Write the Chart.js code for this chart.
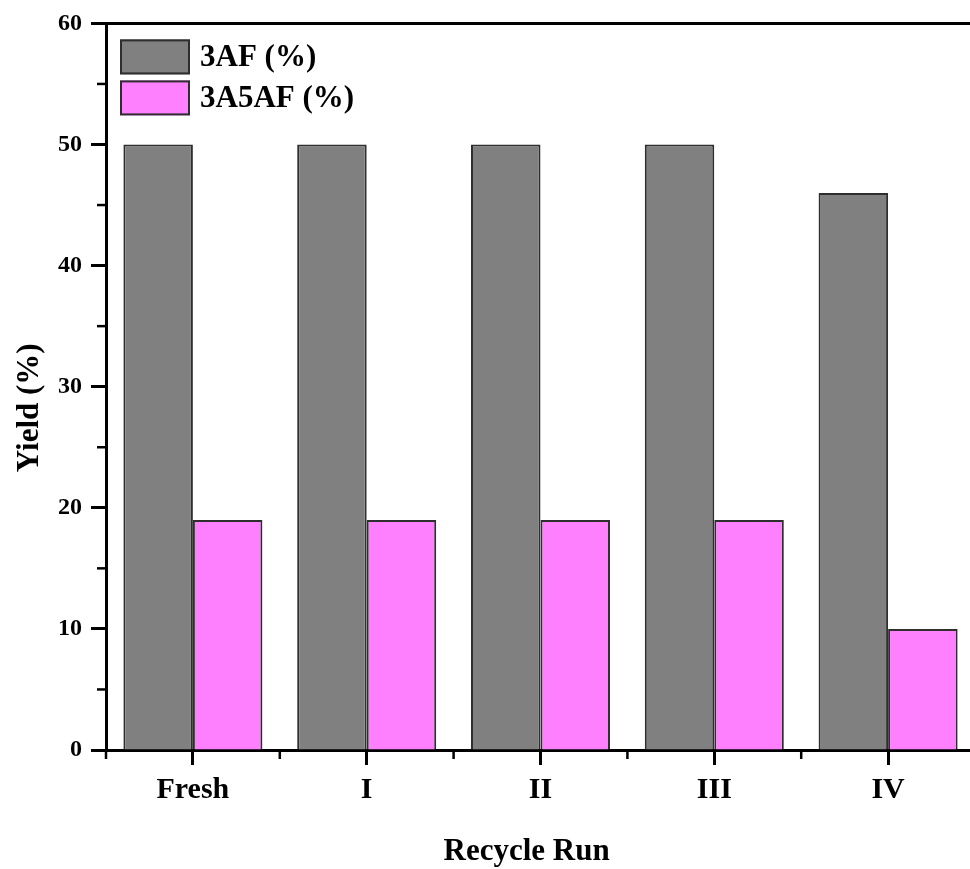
<!DOCTYPE html>
<html>
<head>
<meta charset="utf-8">
<script src="https://cdn.jsdelivr.net/npm/chart.js@4/dist/chart.umd.min.js"></script>
<style>
  html, body { margin: 0; padding: 0; background: #fff; overflow: hidden; width: 970px; height: 869px; }
  #wrap { width: 990px; height: 869px; }
</style>
</head>
<body>
<div id="wrap"><canvas id="c" width="990" height="869"></canvas></div>
<script>
// Catalyst recycling: product yields per run
const runs = ['Fresh', 'I', 'II', 'III', 'IV'];
const yield3AF = [50, 50, 50, 50, 46];
const yield3A5AF = [19, 19, 19, 19, 10];
const seriesNames = ['3AF (%)', '3A5AF (%)'];
const yMin = 0;
const yMax = 60;
const yMajorStep = 10;
const yMinorStep = 5;
const xTitle = 'Recycle Run';
const yTitle = 'Yield (%)';

const SERIF = "'Liberation Serif', 'Times New Roman', serif";
const GRAY = '#808080';
const PINK = '#ff80ff';
const EDGE = '#2e2e2e';

// Frame, minor ticks, legend and axis titles
const decorations = {
  id: 'decorations',
  afterDraw(chart) {
    const { ctx, chartArea: a, scales } = chart;
    ctx.save();
    ctx.strokeStyle = '#000';
    ctx.lineWidth = 3;
    ctx.lineCap = 'butt';
    // top and right edges of the frame
    ctx.beginPath();
    ctx.moveTo(a.left, a.top);
    ctx.lineTo(a.right, a.top);
    ctx.lineTo(a.right, a.bottom);
    ctx.stroke();

    // minor ticks on the value axis
    ctx.lineWidth = 2.5;
    for (let v = yMin + yMinorStep; v < yMax; v += yMajorStep) {
      const y = scales.y.getPixelForValue(v);
      ctx.beginPath();
      ctx.moveTo(a.left - 9, y);
      ctx.lineTo(a.left, y);
      ctx.stroke();
    }
    // minor ticks between categories
    const n = runs.length;
    for (let i = 0; i <= n; i++) {
      const x = scales.x.getPixelForValue(i - 0.5);
      ctx.beginPath();
      ctx.moveTo(x, a.bottom);
      ctx.lineTo(x, a.bottom + 9);
      ctx.stroke();
    }

    // legend
    const bx = a.left + 14, by = a.top + 16, bw = 70, bh = 35, step = 41;
    chart.data.datasets.forEach((ds, i) => {
      const y = by + i * step;
      ctx.fillStyle = ds.backgroundColor;
      ctx.fillRect(bx, y, bw, bh);
      ctx.strokeStyle = EDGE;
      ctx.lineWidth = 2;
      ctx.strokeRect(bx + 1, y + 1, bw - 2, bh - 2);
      ctx.fillStyle = '#000';
      ctx.font = 'bold 31px ' + SERIF;
      ctx.textAlign = 'left';
      ctx.textBaseline = 'middle';
      ctx.fillText(ds.label, bx + bw + 10, y + bh / 2 + 1);
    });

    // axis titles
    ctx.fillStyle = '#000';
    ctx.font = 'bold 31px ' + SERIF;
    ctx.textAlign = 'center';
    ctx.textBaseline = 'alphabetic';
    ctx.fillText(xTitle, a.left + (a.right - a.left) * 0.484, 860);
    ctx.save();
    ctx.translate(38, a.top + (a.bottom - a.top) * 0.529);
    ctx.rotate(-Math.PI / 2);
    ctx.fillText(yTitle, 0, 0);
    ctx.restore();
    ctx.restore();
  }
};

new Chart(document.getElementById('c'), {
  type: 'bar',
  data: {
    labels: runs,
    datasets: [
      { label: seriesNames[0], data: yield3AF, backgroundColor: GRAY, borderColor: EDGE, borderWidth: 2 },
      { label: seriesNames[1], data: yield3A5AF, backgroundColor: PINK, borderColor: EDGE, borderWidth: 2 }
    ]
  },
  options: {
    responsive: false,
    animation: false,
    devicePixelRatio: 1,
    layout: { padding: { top: 22, right: 15, left: 0, bottom: 0 } },
    datasets: { bar: { categoryPercentage: 0.8, barPercentage: 1.0 } },
    plugins: { legend: { display: false }, tooltip: { enabled: false } },
    scales: {
      x: {
        grid: { display: true, drawOnChartArea: false, offset: false, tickLength: 15, tickWidth: 3, tickColor: '#000' },
        border: { display: true, color: '#000', width: 3 },
        ticks: { color: '#000', padding: 7, font: { family: SERIF, size: 30, weight: 'bold' }, maxRotation: 0 },
        afterFit: s => { s.height = 119; }
      },
      y: {
        min: yMin,
        max: yMax,
        grid: { display: true, drawOnChartArea: false, tickLength: 15, tickWidth: 3, tickColor: '#000' },
        border: { display: true, color: '#000', width: 3 },
        ticks: { stepSize: yMajorStep, color: '#000', padding: 9, font: { family: SERIF, size: 24, weight: 'bold' } },
        afterFit: s => { s.width = 106; }
      }
    }
  },
  plugins: [decorations]
});
</script>
</body>
</html>
